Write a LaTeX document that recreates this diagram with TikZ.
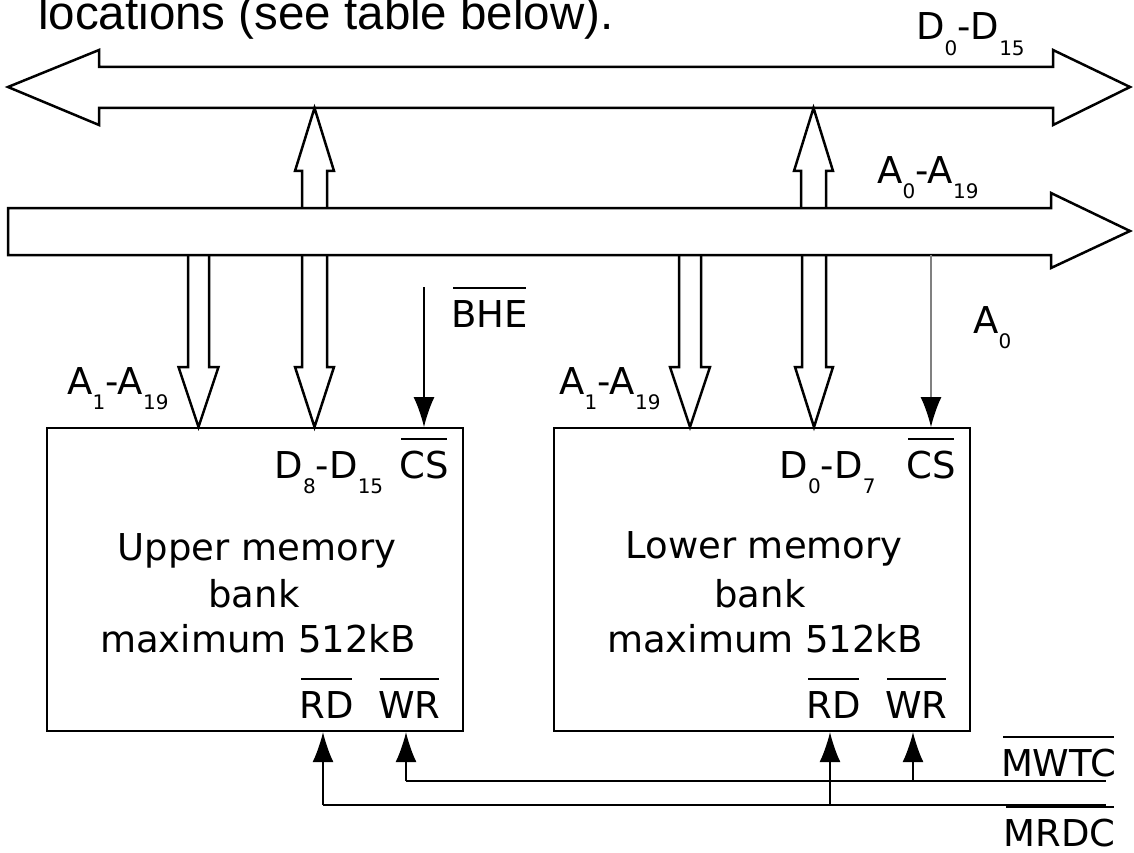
\documentclass[tikz,border=0pt]{standalone}
\usepackage{fontspec}
\setmainfont{DejaVu Sans}
\newfontfamily\headfont{Liberation Sans}
\usetikzlibrary{arrows.meta,calc}

% lowered index and bar over a signal name
\newcommand\lowidx[1]{\raisebox{-15.5pt}{\fontsize{20}{20}\selectfont#1}}
\newsavebox\ovlbox
\newcommand\ovl[1]{\sbox\ovlbox{#1}\rlap{\hspace{2pt}\rule[38pt]{\dimexpr\wd\ovlbox-4pt\relax}{2pt}}\usebox\ovlbox}

\tikzset{
  bus/.style={draw=black, fill=white, line width=2.5pt, line join=miter},
  link/.style={draw=black, line width=2.5pt, line join=miter},
  bank/.style={draw=black, line width=2.2pt, inner sep=0pt, anchor=north west,
               minimum width=416pt, minimum height=303pt},
  lbl/.style={inner sep=0pt, font=\fontsize{37}{44}\selectfont},
  sig/.style={line width=1.2pt, -{Latex[length=30pt,width=21pt]}},
  wire/.style={line width=1.2pt},
}

\begin{document}
\begin{tikzpicture}[x=1pt, y=-1pt]
\useasboundingbox (0,0) rectangle (1134,853);

% heading line
\node[anchor=base west, inner sep=0pt, font=\headfont\fontsize{47.5}{56}\selectfont]
  (head) at (38,30) {locations (see table below).};

% data bus, arrows both ways
\draw[bus] (8,87) -- (99,50) -- (99,67) -- (1053,67) -- (1053,50) -- (1130,87)
  -- (1053,125) -- (1053,108) -- (99,108) -- (99,125) -- cycle;
% address bus, arrow to the right
\draw[bus] (8,208) -- (1051,208) -- (1051,193) -- (1130,231) -- (1051,268)
  -- (1051,255) -- (8,255) -- cycle;

\node[lbl, anchor=base west] (dbus) at (916,40) {D\lowidx{0}-D\lowidx{15}};
\node[lbl, anchor=base west] (abus) at (877,183) {A\lowidx{0}-A\lowidx{19}};

% memory banks
\node[bank] (upper) at (46,427) {};
\node[bank] (lower) at (553,427) {};

% data links from the banks up to the data bus
\draw[link] (302,208) -- (302,171) -- (295,171) -- (314.5,108) -- (334,171) -- (327,171) -- (327,208);
\draw[link] (801,208) -- (801,171) -- (794,171) -- (813.5,108) -- (833,171) -- (826,171) -- (826,208);

% address links from the bus down to the banks
\draw[link] (188,255) -- (188,367) -- (178.5,367) -- (198.5,427) -- (218.5,367) -- (209,367) -- (209,255);
\draw[link] (679,255) -- (679,367) -- (670,367) -- (690,427) -- (710,367) -- (701,367) -- (701,255);
% data links from the bus down to the banks
\draw[link] (302,255) -- (302,367) -- (295,367) -- (314.5,427) -- (334,367) -- (327,367) -- (327,255);
\draw[link] (802,255) -- (802,367) -- (795,367) -- (814,427) -- (833,367) -- (826,367) -- (826,255);

\node[lbl, anchor=base west] (aU) at (67,394) {A\lowidx{1}-A\lowidx{19}};
\node[lbl, anchor=base west] (aL) at (559,394) {A\lowidx{1}-A\lowidx{19}};

% chip selects
\coordinate (bheTop) at (424,287);
\coordinate (a0Top) at (931,255);
\draw[sig] (bheTop) -- (bheTop |- upper.north);
\draw[sig, draw=black!50, -{Latex[length=30pt,width=21pt,color=black]}] (a0Top) -- (a0Top |- lower.north);
\node[lbl, anchor=base west] (bhe) at (451,327) {\ovl{BHE}};
\node[lbl, anchor=base west] (a0) at (973,333) {A\lowidx{0}};

% pin names inside the banks
\node[lbl, anchor=base west] (dU) at (274.5,478) {D\lowidx{8}-D\lowidx{15}};
\node[lbl, anchor=base] (csU) at (424,478) {\ovl{CS}};
\node[lbl, anchor=base west] (dL) at (779.5,478) {D\lowidx{0}-D\lowidx{7}};
\node[lbl, anchor=base] (csL) at (931,478) {\ovl{CS}};

\node[lbl, anchor=base] (tU1) at (257,560) {Upper memory};
\node[lbl, anchor=base] (tU2) at (254,607) {bank};
\node[lbl, anchor=base] (tU3) at (258,652) {maximum 512kB};
\node[lbl, anchor=base] (tL1) at (764,558) {Lower memory};
\node[lbl, anchor=base] (tL2) at (760,607) {bank};
\node[lbl, anchor=base] (tL3) at (765,652) {maximum 512kB};

\node[lbl, anchor=base] (rdU) at (326.5,718) {\ovl{RD}};
\node[lbl, anchor=base] (wrU) at (409.5,718) {\ovl{WR}};
\node[lbl, anchor=base] (rdL) at (833.5,718) {\ovl{RD}};
\node[lbl, anchor=base] (wrL) at (916.5,718) {\ovl{WR}};

% memory read / write command lines
\coordinate (rdUin) at (323,805);
\coordinate (wrUin) at (406,781);
\coordinate (rdLin) at (830,805);
\coordinate (wrLin) at (913,781);
\coordinate (mwtcEnd) at (1106,781);
\coordinate (mrdcEnd) at (1106,805);
\draw[wire] (wrUin) -- (mwtcEnd);
\draw[wire] (rdUin) -- (mrdcEnd);
\draw[sig] (rdUin) -- (rdUin |- upper.south);
\draw[sig] (wrUin) -- (wrUin |- upper.south);
\draw[sig] (rdLin) -- (rdLin |- lower.south);
\draw[sig] (wrLin) -- (wrLin |- lower.south);

\node[lbl, anchor=base east] (mwtc) at (1116,776) {\ovl{MWTC}};
\node[lbl, anchor=base east] (mrdc) at (1116,846) {\ovl{MRDC}};
\end{tikzpicture}
\end{document}
